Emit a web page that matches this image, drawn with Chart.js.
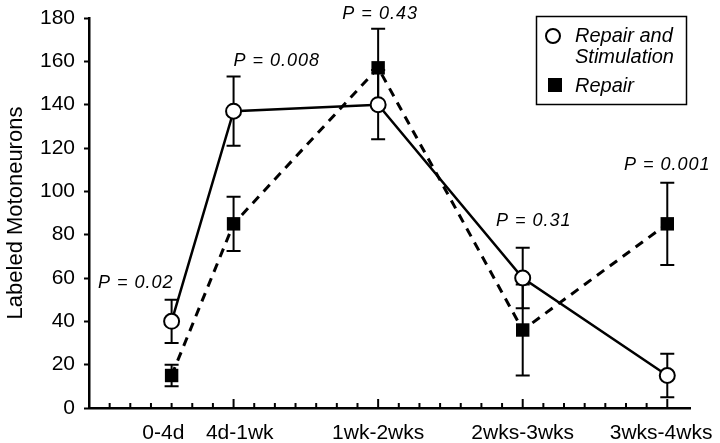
<!DOCTYPE html>
<html>
<head>
<meta charset="utf-8">
<script src="https://cdn.jsdelivr.net/npm/chart.js@4"></script>
<style>
  html, body { margin: 0; padding: 0; background: #fff; }
  #wrap { width: 720px; height: 443px; }
</style>
</head>
<body>
<div id="wrap"><canvas id="moto"></canvas></div>
<script>
// days after repair (end of each interval) and their labels
const days = [4, 7, 14, 21, 28];
const periodLabels = ['0-4d', '4d-1wk', '1wk-2wks', '2wks-3wks', '3wks-4wks'];
// where each period label sits on the day axis
const labelAt = [3.6, 7.3, 14, 21, 27.7];

const stimValues = [40, 137, 140, 60, 15];
const stimErr = [10, 16, 16, 14, 10];
const repairValues = [15, 85, 157, 36, 85];
const repairErr = [5, 12.5, 18, 21, 19];

const pLabels = ['P = 0.02', 'P = 0.008', 'P = 0.43', 'P = 0.31', 'P = 0.001'];

// label placement (style only)
const pAlign = ['right', 'left', 'center', 'center', 'center'];
const pShift = [[2, 1], [0, 2], [2, 3], [11, -9], [0, 0]];

const FONT = '"Liberation Sans", Arial, Helvetica, sans-serif';

// error bars under the markers
const errorBars = {
    id: 'errorBars',
    beforeDatasetsDraw(chart) {
        const ctx = chart.ctx;
        const y = chart.scales.y;
        const sets = [[stimValues, stimErr], [repairValues, repairErr]];
        ctx.save();
        ctx.strokeStyle = '#000';
        ctx.lineWidth = 2;
        sets.forEach(function(s) {
            days.forEach(function(d, i) {
                const px = chart.scales.x.getPixelForValue(d);
                const top = y.getPixelForValue(s[0][i] + s[1][i]);
                const bot = y.getPixelForValue(s[0][i] - s[1][i]);
                ctx.beginPath();
                ctx.moveTo(px, top); ctx.lineTo(px, bot);
                ctx.moveTo(px - 7, top); ctx.lineTo(px + 7, top);
                ctx.moveTo(px - 7, bot); ctx.lineTo(px + 7, bot);
                ctx.stroke();
            });
        });
        ctx.restore();
    },
    afterDraw(chart) {
        const ctx = chart.ctx;
        const x = chart.scales.x;
        const y = chart.scales.y;
        const area = chart.chartArea;
        ctx.save();
        // inward tick marks on the day axis
        ctx.strokeStyle = '#000';
        ctx.lineWidth = 2;
        for (let d = 1; d <= 28; d++) {
            const px = x.getPixelForValue(d);
            const len = d % 7 === 0 ? 9 : 5;
            ctx.beginPath();
            ctx.moveTo(px, area.bottom);
            ctx.lineTo(px, area.bottom - len);
            ctx.stroke();
        }

        // P values
        ctx.fillStyle = '#000';
        ctx.font = 'italic 18px ' + FONT;
        ctx.letterSpacing = '1px';
        ctx.textBaseline = 'middle';
        days.forEach(function(d, i) {
            const hi = Math.max(stimValues[i] + stimErr[i], repairValues[i] + repairErr[i]);
            ctx.textAlign = pAlign[i];
            ctx.fillText(pLabels[i], x.getPixelForValue(d) + pShift[i][0], y.getPixelForValue(hi) - 18 + pShift[i][1]);
        });
        ctx.letterSpacing = '0px';

        // legend box
        const bx = 536, by = 16;
        ctx.lineWidth = 1.5;
        ctx.strokeRect(bx + 0.5, by + 0.5, 150, 88);
        ctx.lineWidth = 2;
        ctx.beginPath();
        ctx.arc(bx + 17, by + 20, 7, 0, Math.PI * 2);
        ctx.fillStyle = '#fff';
        ctx.fill();
        ctx.stroke();
        ctx.fillStyle = '#000';
        ctx.fillRect(bx + 12, by + 62, 14, 14);
        ctx.font = 'italic 20px ' + FONT;
        ctx.textAlign = 'left';
        ctx.textBaseline = 'alphabetic';
        ctx.fillText('Repair and', bx + 39, by + 26);
        ctx.fillText('Stimulation', bx + 39, by + 47);
        ctx.fillText('Repair', bx + 39, by + 76);
        ctx.restore();
    }
};

const ctx_moto = document.getElementById('moto').getContext('2d');
const motoChart = new Chart(ctx_moto, {
    type: 'line',
    data: {
        datasets: [{
            label: 'Repair and Stimulation',
            data: days.map((d, i) => ({ x: d, y: stimValues[i] })),
            borderColor: '#000',
            borderWidth: 2.5,
            pointStyle: 'circle',
            pointRadius: 7.5,
            pointBorderWidth: 2,
            pointBackgroundColor: '#fff',
            pointBorderColor: '#000',
            tension: 0
        }, {
            label: 'Repair',
            data: days.map((d, i) => ({ x: d, y: repairValues[i] })),
            borderColor: '#000',
            borderWidth: 3,
            borderDash: [9, 7],
            pointStyle: 'rect',
            pointRadius: 9.5,
            pointBorderWidth: 0,
            pointBackgroundColor: '#000',
            pointBorderColor: '#000',
            tension: 0
        }]
    },
    options: {
        responsive: true,
        maintainAspectRatio: false,
        animation: false,
        layout: { padding: { top: 18, right: 30, left: 0, bottom: 0 } },
        plugins: {
            legend: { display: false },
            tooltip: { enabled: false }
        },
        scales: {
            x: {
                type: 'linear',
                min: 0,
                max: 29.1,
                afterBuildTicks: function(scale) {
                    scale.ticks = labelAt.map(d => ({ value: d }));
                },
                afterFit: function(scale) {
                    scale.height = 35;
                    scale.paddingLeft = 0;
                    scale.paddingRight = 0;
                },
                ticks: {
                    autoSkip: false,
                    maxRotation: 0,
                    padding: 5,
                    color: '#000',
                    font: { family: FONT, size: 21 },
                    callback: function(v) {
                        const i = labelAt.indexOf(v);
                        return i >= 0 ? periodLabels[i] : '';
                    }
                },
                grid: { display: false },
                border: { display: true, color: '#000', width: 2.5 }
            },
            y: {
                min: 0,
                max: 180,
                afterFit: function(scale) {
                    scale.width = 89;
                    scale.paddingTop = 0;
                    scale.paddingBottom = 0;
                },
                ticks: {
                    stepSize: 20,
                    padding: 9,
                    color: '#000',
                    font: { family: FONT, size: 21 }
                },
                grid: {
                    drawOnChartArea: false,
                    drawTicks: true,
                    tickLength: 5,
                    tickWidth: 2,
                    tickColor: '#000'
                },
                border: { display: true, color: '#000', width: 2.5 },
                title: {
                    display: true,
                    text: 'Labeled Motoneurons',
                    color: '#000',
                    font: { family: FONT, size: 22 },
                    padding: { top: 3, bottom: 0 }
                }
            }
        }
    },
    plugins: [errorBars]
});
</script>
</body>
</html>
